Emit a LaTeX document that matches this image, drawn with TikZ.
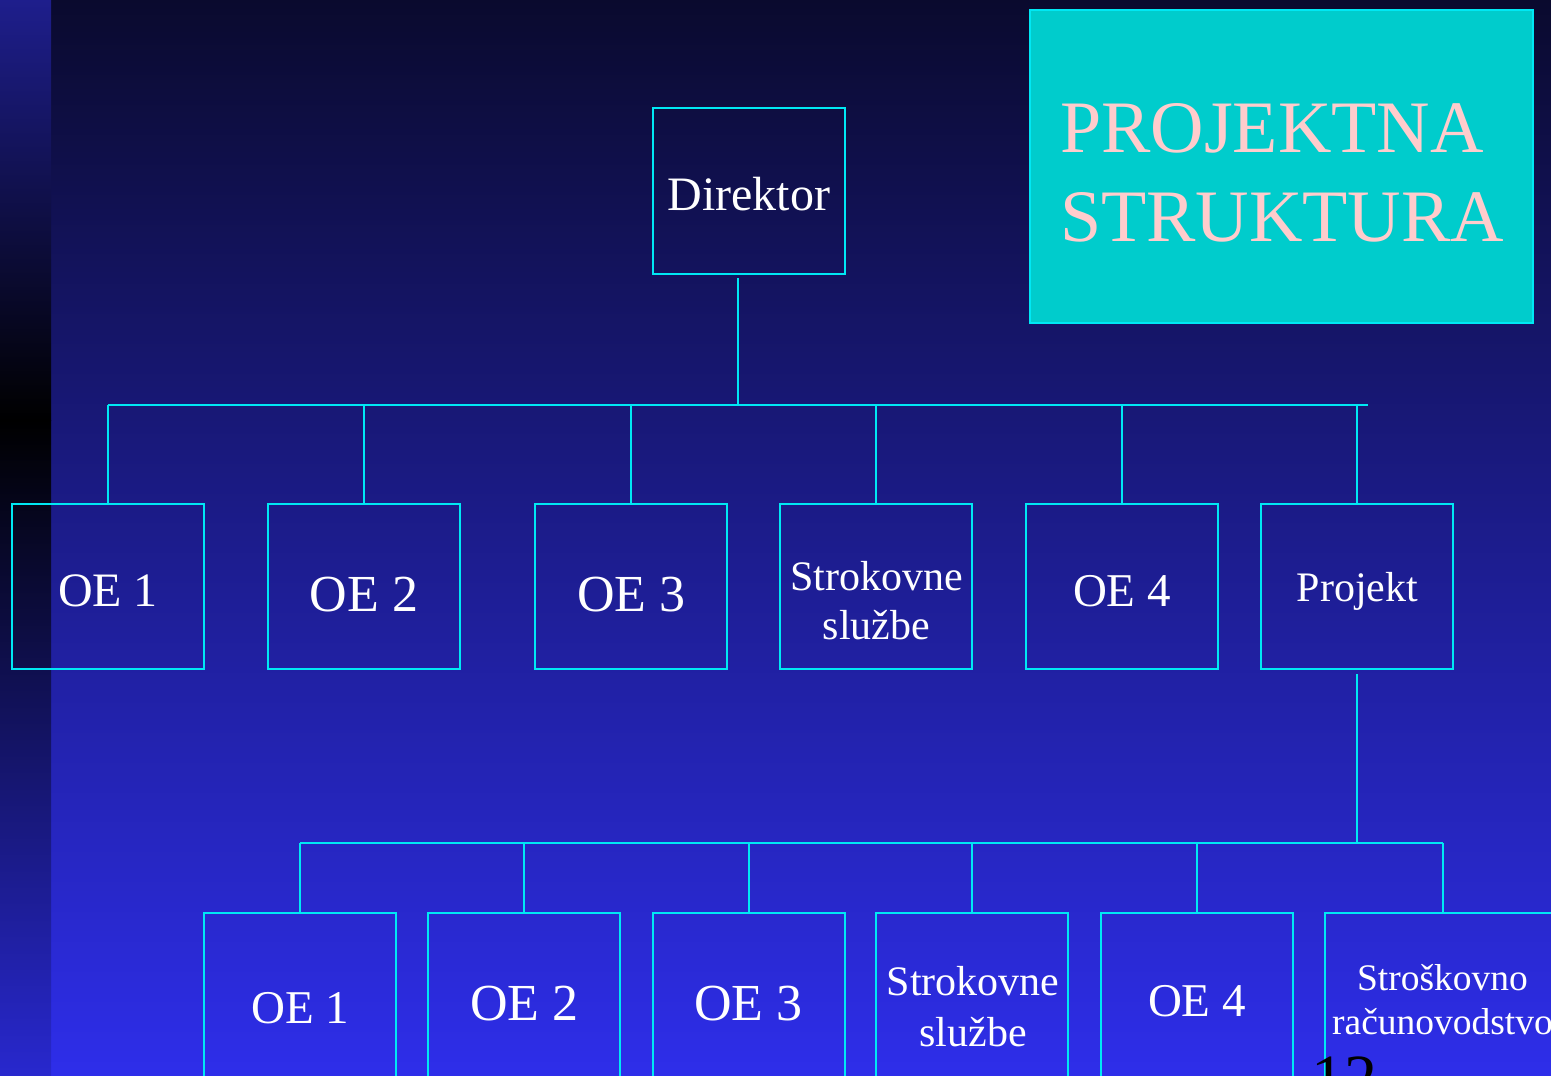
\documentclass[tikz,border=0pt]{standalone}
\usepackage{fontspec}
\setmainfont{Liberation Serif}
\definecolor{bgtop}{RGB}{10,10,46}
\definecolor{bgbot}{RGB}{46,46,234}
\definecolor{striptop}{RGB}{30,30,140}
\definecolor{stripbot}{RGB}{40,40,206}
\definecolor{wire}{RGB}{0,232,244}
\definecolor{titlefill}{RGB}{0,204,204}
\definecolor{titletext}{RGB}{255,204,204}
\begin{document}
\begin{tikzpicture}[x=1pt,y=-1pt,
  orgbox/.style={draw=wire,line width=2pt,minimum width=192pt,minimum height=165pt,inner sep=0pt,outer sep=0pt},
  lowbox/.style={orgbox,minimum height=180pt},
  wireline/.style={draw=wire,line width=2pt},
  lbl/.style={text=white,inner sep=0pt,outer sep=0pt,align=center},
  fa/.style={font=\fontsize{48}{56}\selectfont},
  fb/.style={font=\fontsize{52}{60}\selectfont},
  fc/.style={font=\fontsize{47}{55}\selectfont},
  fd/.style={font=\fontsize{42}{49}\selectfont},
  fe/.style={font=\fontsize{42}{51}\selectfont},
  ff/.style={font=\fontsize{37.5}{44}\selectfont}]
\useasboundingbox (0,0) rectangle (1551,1076);
\clip (0,0) rectangle (1551,1076);

% background and left strip
\shade[top color=bgtop,bottom color=bgbot] (51,0) rectangle (1551,1076);
\shade[top color=striptop,bottom color=black] (0,0) rectangle (51,420);
\shade[top color=black,bottom color=stripbot] (0,420) rectangle (51,1076);

% title panel
\node[draw=wire,line width=2pt,fill=titlefill,minimum width=503pt,minimum height=313pt,inner sep=0pt] (titlebox) at (1281.5,166.5) {};
\node[text=titletext,inner sep=0pt,align=left,anchor=north west,font=\fontsize{74}{89}\selectfont] (titletxt) at (1060,103) {PROJEKTNA\\STRUKTURA};

% top level
\node[orgbox,minimum height=166pt] (dir) at (748.5,191) {};
\node[lbl,fa,anchor=base] (dirt) at (749,210) {Direktor};

% first level boxes
\node[orgbox] (a1) at (108,586.5) {};
\node[orgbox] (a2) at (364,586.5) {};
\node[orgbox] (a3) at (631,586.5) {};
\node[orgbox] (a4) at (876,586.5) {};
\node[orgbox] (a5) at (1122,586.5) {};
\node[orgbox] (a6) at (1357,586.5) {};
\node[lbl,fa,anchor=base] (a1t) at (108,606) {OE 1};
\node[lbl,fb,anchor=base] (a2t) at (364,611) {OE 2};
\node[lbl,fb,anchor=base] (a3t) at (631.5,611) {OE 3};
\node[lbl,fd] (a4t) at (876.5,601) {Strokovne\\službe};
\node[lbl,fc,anchor=base] (a5t) at (1122,606) {OE 4};
\node[lbl,fd,anchor=base] (a6t) at (1357.5,601) {Projekt};

% second level boxes
\node[lowbox] (b1) at (300,1003) {};
\node[lowbox] (b2) at (524,1003) {};
\node[lowbox] (b3) at (748.5,1003) {};
\node[lowbox] (b4) at (972,1003) {};
\node[lowbox] (b5) at (1196.5,1003) {};
\node[lowbox,minimum width=236pt] (b6) at (1443,1003) {};
\node[lbl,fc,anchor=base] (b1t) at (300.5,1023) {OE 1};
\node[lbl,fb,anchor=base] (b2t) at (524.5,1020) {OE 2};
\node[lbl,fb,anchor=base] (b3t) at (748.5,1020) {OE 3};
\node[lbl,fe] (b4t) at (973,1007) {Strokovne\\službe};
\node[lbl,fc,anchor=base] (b5t) at (1197,1016) {OE 4};
\node[lbl,ff] (b6t) at (1442.5,1000) {Stroškovno\\računovodstvo};

% page number
\node[text=black,inner sep=0pt,anchor=base west,font=\fontsize{66}{70}\selectfont] (pageno) at (1311,1100) {12};

% connectors
\coordinate (dirfoot) at (738,278);
\coordinate (busAw) at (108,405);
\coordinate (busAe) at (1368,405);
\draw[wireline] (dirfoot) -- (dirfoot |- busAw);
\draw[wireline] (busAw) -- (busAe);
\foreach \n in {a1,a2,a3,a4,a5,a6}
  \draw[wireline] (\n.north) -- (\n.north |- busAw);

\coordinate (projfoot) at (1357,674);
\coordinate (busBw) at (300,843);
\coordinate (busBe) at (1443,843);
\draw[wireline] (projfoot) -- (projfoot |- busBw);
\draw[wireline] (busBw) -- (busBe);
\foreach \n in {b1,b2,b3,b4,b5,b6}
  \draw[wireline] (\n.north) -- (\n.north |- busBw);
\end{tikzpicture}
\end{document}
